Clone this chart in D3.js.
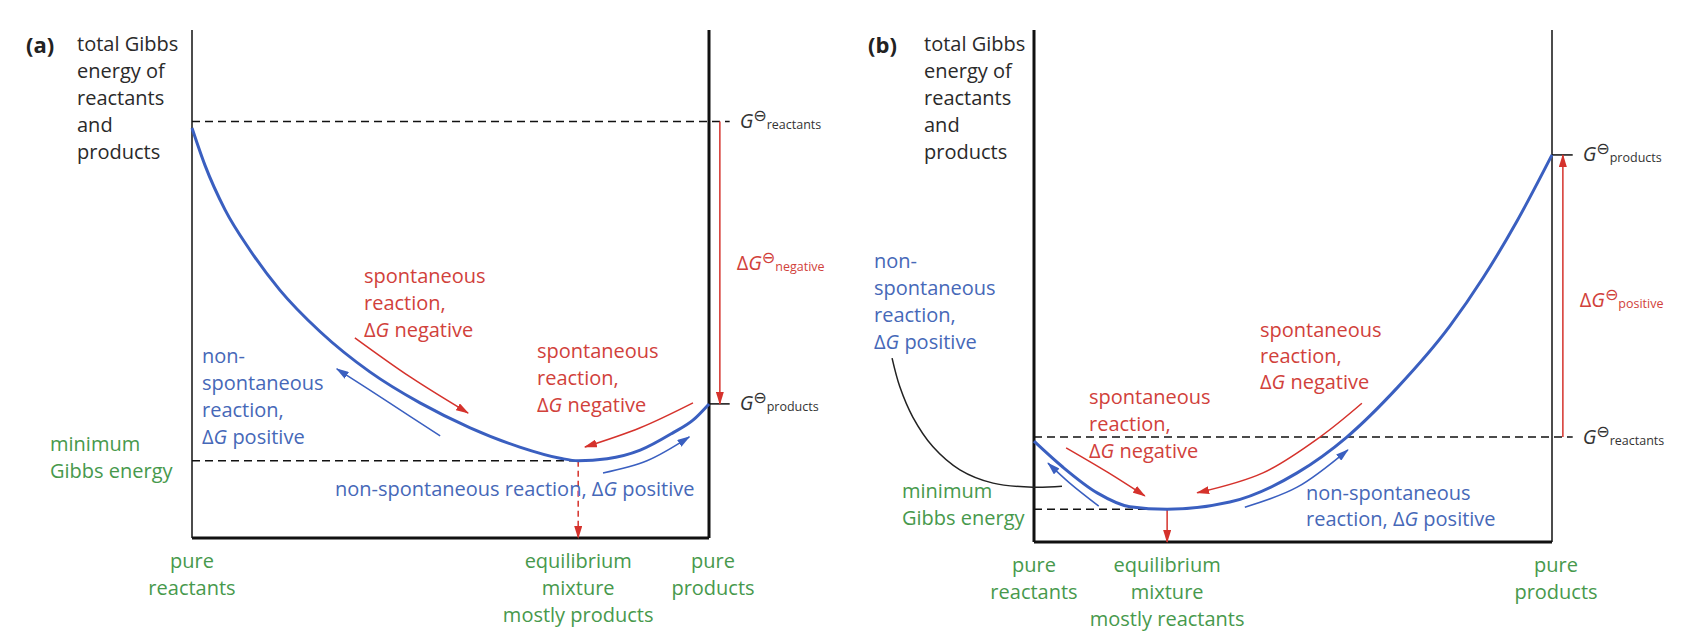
<!DOCTYPE html>
<html>
<head>
<meta charset="utf-8">
<script src="https://cdn.jsdelivr.net/npm/d3@7"></script>
<style>
  body { margin: 0; background: #fff; }
  svg { display: block; font-family: "Open Sans", sans-serif; }
</style>
</head>
<body>
<svg id="chart" width="1708" height="638"></svg>
<script>
// x = extent of reaction (0 pure reactants .. 1 pure products), y = total G (arbitrary units, 0..100)
var curveA = [[0, 80.7], [0.025, 73.4], [0.064, 64.6], [0.112, 56.7], [0.170, 48.8], [0.248, 40.6],
              [0.344, 32.7], [0.441, 26.6], [0.538, 21.7], [0.634, 17.9], [0.712, 15.7], [0.747, 15.2],
              [0.803, 15.6], [0.867, 17.3], [0.930, 20.7], [0.969, 23.2], [1, 26.4]];
var curveB = [[0, 19.7], [0.056, 14.6], [0.122, 9.6], [0.185, 6.9], [0.257, 6.4], [0.378, 7.8], [0.508, 13.5],
              [0.604, 20.5], [0.701, 30.1], [0.803, 42.2], [0.867, 51.6], [0.932, 62.6], [1, 75.6]];

// standard Gibbs energies and minimum
var gReactantsA = 82, gProductsA = 26.4, minA = [0.747, 15.2];
var gReactantsB = 20.5, gProductsB = 75.6, minB = [0.257, 6.4];

// direction arrows along the curves
var arrowsA = [
  {color: 'red',  pts: [[0.315, 39.4], [0.422, 31.7], [0.534, 24.6]]},
  {color: 'blue', pts: [[0.480, 20.1], [0.379, 26.8], [0.280, 33.3]]},
  {color: 'red',  pts: [[0.969, 26.6], [0.867, 21.7], [0.760, 17.9]]},
  {color: 'blue', pts: [[0.795, 12.8], [0.880, 15.2], [0.962, 19.9]]}
];
var arrowsB = [
  {color: 'red',  pts: [[0.062, 18.4], [0.141, 13.7], [0.214, 9.0]]},
  {color: 'red',  pts: [[0.633, 27.1], [0.552, 20.5], [0.442, 13.5], [0.315, 9.6]]},
  {color: 'blue', pts: [[0.125, 7.0], [0.069, 11.5], [0.027, 15.4]]},
  {color: 'blue', pts: [[0.407, 6.8], [0.508, 10.7], [0.606, 18.0]]}
];
var leaderB = [[-0.274, 35.9], [-0.259, 30.3], [-0.234, 24.4], [-0.195, 18.6], [-0.143, 14.1],
               [-0.079, 11.5], [-0.002, 10.7], [0.054, 10.9]];

// text
var yTitle = ['total Gibbs', 'energy of', 'reactants', 'and', 'products'];
var spontText = ['spontaneous', 'reaction,', 'ΔG negative'];
var nonSpontText = ['non-', 'spontaneous', 'reaction,', 'ΔG positive'];
var minText = ['minimum', 'Gibbs energy'];
var pureR = ['pure', 'reactants'], pureP = ['pure', 'products'];
var eqA = ['equilibrium', 'mixture', 'mostly products'];
var eqB = ['equilibrium', 'mixture', 'mostly reactants'];

var colors = {
  red: '#d5322c', redText: '#d1413b',
  blue: '#3a5fc0', blueText: '#4668b8',
  green: '#47994c', ink: '#2a2a2a'
};

var svg = d3.select('#chart');
var defs = svg.append('defs');

['red', 'blue'].forEach(function (c) {
  defs.append('marker')
      .attr('id', 'head-' + c)
      .attr('viewBox', '0 0 13 8')
      .attr('refX', 12).attr('refY', 4)
      .attr('markerWidth', 13).attr('markerHeight', 8)
      .attr('markerUnits', 'userSpaceOnUse')
      .attr('orient', 'auto')
    .append('path')
      .attr('d', 'M0,0 L13,4 L0,8 Z')
      .attr('fill', colors[c]);
});

// text with "ΔG" rendered as upright delta + italic G
function writeLines(g, x, y0, lines, color, anchor, lh) {
  lh = lh || 27;
  lines.forEach(function (line, i) {
    var t = g.append('text')
        .attr('x', x).attr('y', y0 + i * lh)
        .attr('fill', color)
        .attr('font-size', 20)
        .attr('text-anchor', anchor || 'start');
    line.split(/(ΔG)/).forEach(function (part) {
      if (part === 'ΔG') {
        t.append('tspan').text('Δ');
        t.append('tspan').attr('font-style', 'italic').text('G');
      } else if (part) {
        t.append('tspan').text(part);
      }
    });
  });
}

function stdLabel(g, x, y, delta, sub, color) {
  var t = g.append('text').attr('x', x).attr('y', y).attr('fill', color).attr('font-size', 20);
  if (delta) t.append('tspan').text('Δ');
  t.append('tspan').attr('font-style', 'italic').text('G');
  t.append('tspan').attr('font-family', '"DejaVu Sans"').attr('font-size', 16).attr('dy', -7).text('⊖');
  t.append('tspan').attr('font-size', 12.5).attr('dy', 8).text(sub);
}

function drawPanel(opt) {
  var x = d3.scaleLinear().domain([0, 1]).range([opt.left, opt.right]);
  var y = d3.scaleLinear().domain([0, 100]).range([opt.bottom, opt.top]);
  var g = svg.append('g');
  var line = d3.line().x(function (d) { return x(d[0]); }).y(function (d) { return y(d[1]); });

  // panel letter and axis title
  g.append('text').attr('x', opt.letterX).attr('y', 53)
      .attr('font-size', 22).attr('font-weight', 'bold').attr('fill', '#222').text(opt.letter);
  writeLines(g, opt.titleX, 51, yTitle, colors.ink);

  // dashed reference levels
  var dash = g.append('g').attr('stroke', '#111').attr('stroke-width', 1.5).attr('stroke-dasharray', '8,5').attr('fill', 'none');
  dash.append('path').attr('d', line([[0, opt.dashLevel], [1.04, opt.dashLevel]]));
  dash.append('path').attr('d', line([[0, opt.min[1]], [opt.min[0], opt.min[1]]]));

  // solid tick for the other level
  g.append('path').attr('d', line([[1, opt.tickLevel], [1.04, opt.tickLevel]]))
      .attr('stroke', '#111').attr('stroke-width', 1.5);

  // axes
  var axes = g.append('g').attr('stroke', '#111').attr('fill', 'none');
  axes.append('path').attr('d', line([[0, 100], [0, 0]])).attr('stroke-width', opt.leftW);
  axes.append('path').attr('d', line([[1, 100], [1, 0]])).attr('stroke-width', opt.rightW);
  axes.append('path').attr('d', line([[0, 0], [1, 0]])).attr('stroke-width', 3);

  // standard Gibbs energy change arrow
  g.append('path').attr('d', line([[1.021, opt.dgFrom], [1.021, opt.dgTo]]))
      .attr('stroke', colors.red).attr('stroke-width', 1.5).attr('fill', 'none')
      .attr('marker-end', 'url(#head-red)');

  // equilibrium drop arrow
  g.append('path').attr('d', line([[opt.min[0], opt.min[1]], [opt.min[0], 0]]))
      .attr('stroke', colors.red).attr('stroke-width', 1.5).attr('fill', 'none')
      .attr('stroke-dasharray', opt.eqDashed ? '6,4' : null)
      .attr('marker-end', 'url(#head-red)');

  // main curve
  var smoothLine = d3.line().x(function (d) { return x(d[0]); }).y(function (d) { return y(d[1]); })
      .curve(d3.curveMonotoneX);
  g.append('path').attr('d', smoothLine(opt.curve))
      .attr('stroke', colors.blue).attr('stroke-width', 3).attr('fill', 'none');

  // direction arrows
  var smooth = d3.line().x(function (d) { return x(d[0]); }).y(function (d) { return y(d[1]); })
      .curve(d3.curveCatmullRom.alpha(0.5));
  g.selectAll('.dir').data(opt.arrows).join('path')
      .attr('class', 'dir')
      .attr('d', function (d) { return smooth(d.pts); })
      .attr('stroke', function (d) { return colors[d.color]; })
      .attr('stroke-width', 1.5).attr('fill', 'none')
      .attr('marker-end', function (d) { return 'url(#head-' + d.color + ')'; });

  // level labels
  stdLabel(g, x(1.04) + 10, y(opt.dashLevel) + 7, false, opt.dashName, '#333');
  stdLabel(g, x(1.04) + 10, y(opt.tickLevel) + 6, false, opt.tickName, '#333');
  stdLabel(g, x(1.04) + 7, opt.dgLabelY, true, opt.dgName, colors.redText);

  // bottom labels
  writeLines(g, x(0), opt.bottom + 30, pureR, colors.green, 'middle');
  writeLines(g, x(opt.min[0]), opt.bottom + 30, opt.eqText, colors.green, 'middle');
  writeLines(g, x(1) + 4, opt.bottom + 30, pureP, colors.green, 'middle');

  return {x: x, y: y, g: g, smooth: smooth};
}

var A = drawPanel({
  left: 192, right: 709, top: 30, bottom: 538,
  letter: '(a)', letterX: 26, titleX: 77,
  curve: curveA, arrows: arrowsA, min: minA,
  dashLevel: gReactantsA, dashName: 'reactants',
  tickLevel: gProductsA, tickName: 'products',
  dgFrom: gReactantsA, dgTo: gProductsA, dgName: 'negative', dgLabelY: 270,
  leftW: 1.5, rightW: 3, eqDashed: true, eqText: eqA
});

writeLines(A.g, 364, 283, spontText, colors.redText);
writeLines(A.g, 202, 363, nonSpontText, colors.blueText);
writeLines(A.g, 537, 358, spontText, colors.redText);
writeLines(A.g, 335, 496, ['non-spontaneous reaction, ΔG positive'], colors.blueText);
writeLines(A.g, 50, 451, minText, colors.green);

var B = drawPanel({
  left: 1034, right: 1552, top: 30, bottom: 542,
  letter: '(b)', letterX: 868, titleX: 924,
  curve: curveB, arrows: arrowsB, min: minB,
  dashLevel: gReactantsB, dashName: 'reactants',
  tickLevel: gProductsB, tickName: 'products',
  dgFrom: gReactantsB, dgTo: gProductsB, dgName: 'positive', dgLabelY: 307,
  leftW: 3, rightW: 1.5, eqDashed: false, eqText: eqB
});

// leader from the blue label to the start of the curve
B.g.append('path').attr('d', B.smooth(leaderB))
    .attr('stroke', '#222').attr('stroke-width', 1.5).attr('fill', 'none');

writeLines(B.g, 874, 268, nonSpontText, colors.blueText);
writeLines(B.g, 902, 498, minText, colors.green);
writeLines(B.g, 1089, 404, spontText, colors.redText);
writeLines(B.g, 1260, 337, spontText, colors.redText, 'start', 26);
writeLines(B.g, 1306, 500, ['non-spontaneous', 'reaction, ΔG positive'], colors.blueText, 'start', 26);
</script>
</body>
</html>
